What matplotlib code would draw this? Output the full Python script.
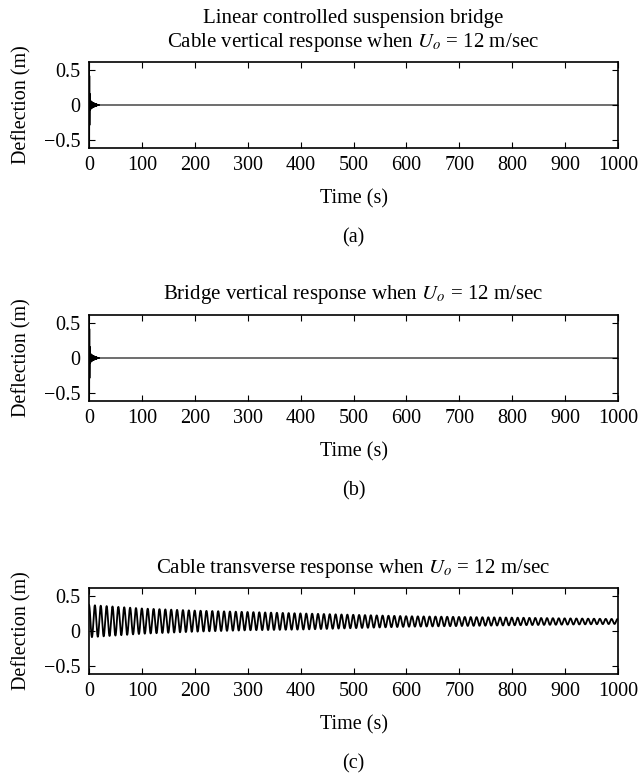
import numpy as np
import matplotlib
matplotlib.use("Agg")
import matplotlib.pyplot as plt

plt.rcParams['font.family'] = ['Liberation Serif', 'DejaVu Serif']
plt.rcParams['mathtext.fontset'] = 'stix'

# values
x_ticks = [0, 100, 200, 300, 400, 500, 600, 700, 800, 900, 1000]
y_ticks = [-0.5, 0, 0.5]
y_ticklabels = ["\u22120.5", "0", "0.5"]

# vertical responses: short burst right after t = 0, then flat at zero
burst_t = [0, 1, 2, 5, 10, 15, 20, 1000]
burst_amp = [0.65, 0.5, 0.07, 0.045, 0.025, 0.01, 0.0, 0.0]
burst_period = 0.6

# cable transverse response: envelope of the oscillation
env_t = [0, 100, 200, 300, 400, 500, 600, 700, 800, 900, 1000]
c_upper = [0.37, 0.32, 0.29, 0.27, 0.25, 0.23, 0.21, 0.20, 0.19, 0.18, 0.17]
c_lower = [-0.09, -0.04, -0.01, 0.01, 0.02, 0.04, 0.06, 0.07, 0.08, 0.09, 0.10]
c_period = 11.1

titles = [
    ["Linear controlled suspension bridge",
     "Cable vertical response when $U_o$ = 12 m/sec"],
    ["Bridge vertical response when $U_o$ = 12 m/sec"],
    ["Cable transverse response when $U_o$ = 12 m/sec"],
]
panel_tags = ["(a)", "(b)", "(c)"]

t = np.linspace(0, 1000, 40001)
amp = np.interp(t, burst_t, burst_amp)
burst = amp * np.cos(2 * np.pi * t / burst_period)
up = np.interp(t, env_t, c_upper)
lo = np.interp(t, env_t, c_lower)
transverse = (up + lo) / 2 + (up - lo) / 2 * np.cos(2 * np.pi * t / c_period)
series = [burst, burst, transverse]
widths = [0.8, 0.8, 1.3]

W, H = 641, 775
fig = plt.figure(figsize=(W / 100, H / 100), dpi=100)
tops = [62, 315, 588]
ax_h = 86
left, right = 89, 618
fs = 14.5

def fy(px):
    return 1 - px / H

for i in range(3):
    ax = fig.add_axes([left / W, fy(tops[i] + ax_h), (right - left) / W, ax_h / H])
    ax.plot(t, series[i], color='black', lw=widths[i])
    ax.set_xlim(0, 1000)
    ax.set_ylim(-0.61, 0.61)
    ax.set_xticks(x_ticks)
    ax.set_yticks(y_ticks)
    ax.set_yticklabels(y_ticklabels)
    ax.tick_params(direction='in', top=True, right=True, length=4.5, width=0.8,
                   labelsize=fs)
    ax.tick_params(axis='x', pad=6)
    ax.tick_params(axis='y', pad=6)
    for s in ax.spines.values():
        s.set_linewidth(1.2)

    bottom = tops[i] + ax_h
    cx = (left + right) / 2 / W
    # title lines, last one sits ~21 px above the axes
    for k, line in enumerate(reversed(titles[i])):
        fig.text(cx, fy(tops[i] - 20 - 23 * k), line, ha='center', va='center',
                 fontsize=15)
    fig.text(cx, fy(bottom + 51), "Time (s)", ha='center', va='center', fontsize=fs)
    fig.text(22 / W, fy(tops[i] + ax_h / 2), "Deflection (m)", rotation=90,
             ha='center', va='center', fontsize=fs)
    fig.text(cx, fy(bottom + 90), panel_tags[i], ha='center', va='center', fontsize=fs)

fig.savefig("out.png", dpi=100)
